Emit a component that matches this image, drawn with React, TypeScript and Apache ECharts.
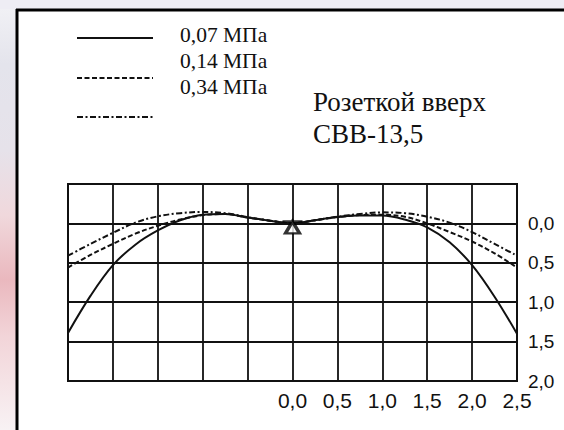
import React, { useEffect, useRef } from "react";
import * as echarts from "echarts";

const xValues = [-2.5, -2.25, -2.0, -1.75, -1.5, -1.25, -1.0, -0.75, -0.5, -0.25, 0, 0.25, 0.5, 0.75, 1.0, 1.25, 1.5, 1.75, 2.0, 2.25, 2.5];
const p007 = [1.39, 0.92, 0.53, 0.27, 0.09, -0.04, -0.11, -0.12, -0.075, -0.035, 0, -0.04, -0.08, -0.1, -0.1, -0.05, 0.05, 0.24, 0.53, 0.93, 1.4];
const p014 = [0.56, 0.4, 0.26, 0.13, 0.03, -0.05, -0.105, -0.12, -0.075, -0.035, 0, -0.04, -0.08, -0.105, -0.11, -0.085, 0.0, 0.11, 0.23, 0.38, 0.56];
const p034 = [0.41, 0.26, 0.12, -0.01, -0.09, -0.13, -0.145, -0.13, -0.08, -0.035, 0, -0.04, -0.085, -0.12, -0.14, -0.13, -0.085, -0.01, 0.11, 0.26, 0.41];
const legendLabels = ["0,07 МПа", "0,14 МПа", "0,34 МПа"];
const titleLines = ["Розеткой вверх", "СВВ-13,5"];
const supportPoint = [[0, 0]];

const fmt = (v: number) => (v < 0 ? "" : v.toFixed(1).replace(".", ","));

export default function App() {
  const ref = useRef<HTMLDivElement>(null);
  useEffect(() => {
    if (!ref.current) return;
    const chart = echarts.init(ref.current, undefined, { renderer: "svg" });
    const pair = (arr: number[]) => xValues.map((x, i) => [x, arr[i]]);
    const dashed = [5, 2.5];
    const dashDot = [6, 2.5, 2, 2.5];
    const sans = "Liberation Sans";
    chart.setOption({
      animation: false,
      backgroundColor: "#ffffff",
      grid: { left: 68, right: 47, top: 184, bottom: 49, show: true, borderColor: "#111", borderWidth: 2 },
      xAxis: {
        type: "value",
        min: -2.5,
        max: 2.5,
        interval: 0.5,
        axisLine: { show: true, onZero: false, lineStyle: { color: "#111", width: 2 } },
        axisTick: { show: false },
        splitLine: { show: true, lineStyle: { color: "#111", width: 1.8 } },
        axisLabel: { formatter: fmt, color: "#111", fontSize: 21, fontFamily: sans, margin: 9, showMinLabel: true, showMaxLabel: true },
      },
      yAxis: {
        type: "value",
        inverse: true,
        position: "right",
        min: -0.5,
        max: 2.0,
        interval: 0.5,
        axisLine: { show: true, onZero: false, lineStyle: { color: "#111", width: 2 } },
        axisTick: { show: false },
        splitLine: { show: true, lineStyle: { color: "#111", width: 1.8 } },
        axisLabel: { formatter: fmt, color: "#111", fontSize: 19, fontFamily: sans, margin: 11, showMinLabel: true, showMaxLabel: true },
      },
      series: [
        { name: legendLabels[0], type: "line", data: pair(p007), smooth: 0.35, symbol: "none", lineStyle: { color: "#111", width: 2 } },
        { name: legendLabels[1], type: "line", data: pair(p014), smooth: 0.35, symbol: "none", lineStyle: { color: "#111", width: 2, type: dashed } },
        { name: legendLabels[2], type: "line", data: pair(p034), smooth: 0.35, symbol: "none", lineStyle: { color: "#111", width: 2, type: dashDot } },
        {
          type: "scatter",
          data: supportPoint,
          symbol: "path://M0,0 L20,0 M10,0 L3,12 L17,12 Z",
          symbolSize: [20, 12],
          symbolOffset: [0, 4],
          itemStyle: { color: "#ffffff", borderColor: "#000", borderWidth: 3 },
          z: 5,
        },
      ],
      graphic: [
        {
          type: "rect",
          silent: true,
          shape: { x: 0, y: 0, width: 16, height: 430 },
          style: {
            fill: new echarts.graphic.LinearGradient(0, 0, 0, 1, [
              { offset: 0, color: "#f2f2f6" },
              { offset: 0.15, color: "#e4e4ec" },
              { offset: 0.35, color: "#e6e2ea" },
              { offset: 0.5, color: "#f0d8dc" },
              { offset: 0.65, color: "#eab8be" },
              { offset: 0.78, color: "#f2d4d8" },
              { offset: 1, color: "#f8f2f4" },
            ]),
          },
        },
        {
          type: "rect",
          silent: true,
          shape: { x: 0, y: 0, width: 564, height: 9 },
          style: { fill: "#eeedf4" },
        },
        { type: "line", silent: true, shape: { x1: 17, y1: 9, x2: 17, y2: 430 }, style: { stroke: "#000", lineWidth: 3 } },
        { type: "line", silent: true, shape: { x1: 16, y1: 10, x2: 564, y2: 10 }, style: { stroke: "#000", lineWidth: 3 } },
        { type: "line", silent: true, shape: { x1: 77, y1: 38, x2: 153, y2: 38 }, style: { stroke: "#111", lineWidth: 2 } },
        { type: "line", silent: true, shape: { x1: 77, y1: 78, x2: 153, y2: 78 }, style: { stroke: "#111", lineWidth: 2, lineDash: dashed } },
        { type: "line", silent: true, shape: { x1: 77, y1: 117, x2: 153, y2: 117 }, style: { stroke: "#111", lineWidth: 2, lineDash: dashDot } },
        ...legendLabels.map((t, i) => ({
          type: "text",
          silent: true,
          style: { text: t, x: 180, y: 35 + i * 25.8, fontSize: 21.5, fontFamily: "Liberation Serif", font: "21.5px 'Liberation Serif', serif", fill: "#111", verticalAlign: "middle", textVerticalAlign: "middle" },
        })),
        ...titleLines.map((t, i) => ({
          type: "text",
          silent: true,
          style: { text: t, x: 313, y: 102 + i * 32, fontSize: 27, fontFamily: "Liberation Serif", font: "27px 'Liberation Serif', serif", fill: "#111", verticalAlign: "middle", textVerticalAlign: "middle" },
        })),
      ],
    });
    return () => chart.dispose();
  }, []);
  return <div ref={ref} style={{ position: "fixed", left: 0, top: 0, width: 564, height: 430 }} />;
}
